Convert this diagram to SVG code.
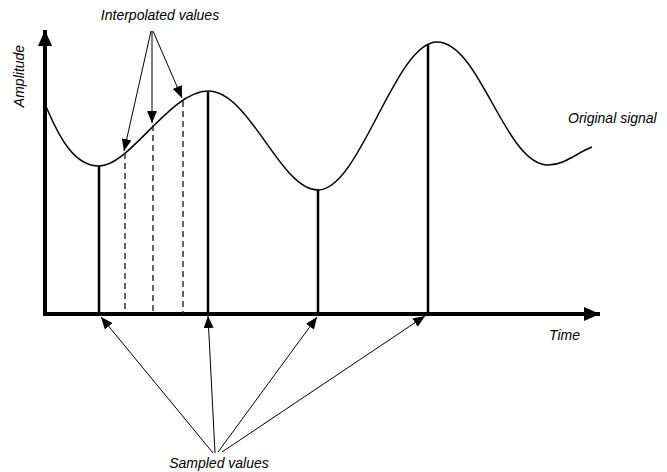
<svg xmlns="http://www.w3.org/2000/svg" width="667" height="472" viewBox="0 0 667 472">
<style>
.lbl{font-family:"Liberation Sans",Arial,sans-serif;font-style:italic;font-size:14px;fill:#000}
.axis{stroke:#000;stroke-width:4;fill:none}
.sample{stroke:#000;stroke-width:2.5;fill:none}
.dash{stroke:#222;stroke-width:1.4;stroke-dasharray:6,4;fill:none}
.ptr{stroke:#000;stroke-width:1;fill:none}
.sig{stroke:#000;stroke-width:1.5;fill:none}
</style>
<defs>
<marker id="ah" viewBox="0 0 12 10" refX="12" refY="5" markerWidth="12" markerHeight="10" markerUnits="userSpaceOnUse" orient="auto">
<path d="M0,0 L12,5 L0,10 Z" fill="#000"/>
</marker>
<marker id="axh" viewBox="0 0 16 14" refX="16" refY="7" markerWidth="16" markerHeight="14" markerUnits="userSpaceOnUse" orient="auto">
<path d="M0,0 L16,7 L0,14 Z" fill="#000"/>
</marker>
</defs>
<g id="axes">
<line class="axis" x1="45" y1="316" x2="45" y2="30" marker-end="url(#axh)"/>
<line class="axis" x1="43" y1="314" x2="600" y2="314" marker-end="url(#axh)"/>
</g>
<g id="signal">
<path class="sig" d="M45,104 C60,140 75,166 99,166 C130,166 170,91 208,91 C250,91 280,190 318,190 C360,190 395,42 437,42 C480,42 505,165 548,165 C565,165 578,152 592,147"/>
</g>
<g id="samples">
<line class="sample" x1="99" y1="166" x2="99" y2="314"/>
<line class="sample" x1="208" y1="92" x2="208" y2="314"/>
<line class="sample" x1="318" y1="190" x2="318" y2="314"/>
<line class="sample" x1="428" y1="44" x2="428" y2="314"/>
</g>
<g id="interpolated">
<line class="dash" x1="125" y1="153" x2="125" y2="314"/>
<line class="dash" x1="153" y1="125" x2="153" y2="314"/>
<line class="dash" x1="183" y1="101" x2="183" y2="314"/>
</g>
<g id="connectors">
<line class="ptr" x1="151" y1="31" x2="124" y2="151" marker-end="url(#ah)"/>
<line class="ptr" x1="152" y1="31" x2="152" y2="123" marker-end="url(#ah)"/>
<line class="ptr" x1="153" y1="31" x2="182" y2="98" marker-end="url(#ah)"/>
<line class="ptr" x1="213" y1="453" x2="101" y2="317" marker-end="url(#ah)"/>
<line class="ptr" x1="215" y1="453" x2="208" y2="316" marker-end="url(#ah)"/>
<line class="ptr" x1="218" y1="452" x2="317" y2="317" marker-end="url(#ah)"/>
<line class="ptr" x1="222" y1="452" x2="425" y2="316" marker-end="url(#ah)"/>
</g>
<g id="labels">
<text class="lbl" x="160" y="20" text-anchor="middle">Interpolated values</text>
<text class="lbl" x="568" y="123">Original signal</text>
<text class="lbl" x="549" y="340">Time</text>
<text class="lbl" x="219" y="468" text-anchor="middle">Sampled values</text>
<text class="lbl" transform="translate(24,76) rotate(-90)" text-anchor="middle">Amplitude</text>
</g>
</svg>
